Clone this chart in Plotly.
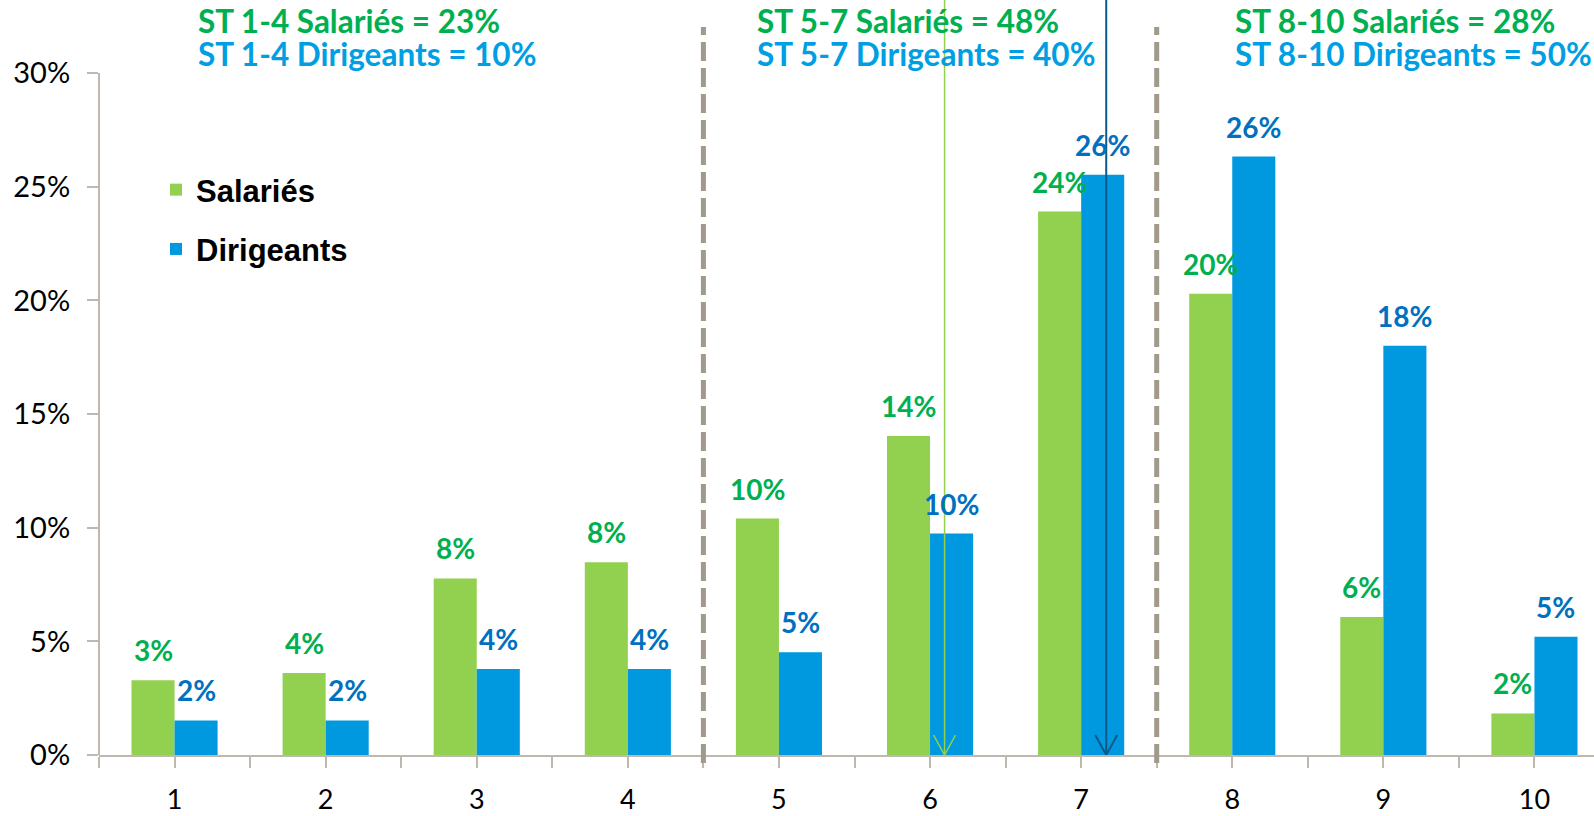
import plotly.graph_objects as go

categories = [1, 2, 3, 4, 5, 6, 7, 8, 9, 10]
tick_labels = ["1", "2", "3", "4", "5", "6", "7", "8", "9", "10"]
salaries = [3.29, 3.61, 7.77, 8.48, 10.40, 14.03, 23.91, 20.29, 6.07, 1.83]
dirigeants = [1.52, 1.52, 3.78, 3.78, 4.52, 9.74, 25.53, 26.33, 18.01, 5.20]
group_titles_sal = ["ST 1-4 Salariés = 23%", "ST 5-7 Salariés = 48%", "ST 8-10 Salariés = 28%"]
group_titles_dir = ["ST 1-4 Dirigeants = 10%", "ST 5-7 Dirigeants = 40%", "ST 8-10 Dirigeants = 50%"]
group_title_px = [196, 755, 1233]
separators = [4.5, 7.5]
y_ticks = [0, 5, 10, 15, 20, 25, 30]

GREEN_BAR = "#92D050"
BLUE_BAR = "#0099E0"
GREEN_TXT = "#00B050"
BLUE_TXT = "#0070C0"
BLUE_TITLE = "#009FE3"
AXIS = "#BFB8AE"
FONT = "Lato"

W, H = 1594, 816
ML, MB = 99, 61
plot_h = H - MB
px_per_pct = 22.73
px_per_cat = 151.1
bargap = 0.43
x_range = [0.5, 0.5 + (W - ML) / px_per_cat]
y_range = [0, plot_h / px_per_pct]
offset = (1 - bargap) / 4

fig = go.Figure()
fig.add_trace(go.Bar(x=categories, y=salaries, name="Salariés", marker_color=GREEN_BAR,
                     marker_line_width=0, legendgroup="g0"))
fig.add_trace(go.Bar(x=categories, y=dirigeants, name="Dirigeants", marker_color=BLUE_BAR,
                     marker_line_width=0, legendgroup="g1"))

annotations = []
for c, v in zip(categories, salaries):
    annotations.append(dict(x=c - offset, y=v, xref="x", yref="y", text=f"{v:.0f}%",
                            showarrow=False, yanchor="middle", yshift=30,
                            font=dict(family=FONT, size=28, color=GREEN_TXT, weight="bold")))
for c, v in zip(categories, dirigeants):
    annotations.append(dict(x=c + offset, y=v, xref="x", yref="y", text=f"{v:.0f}%",
                            showarrow=False, yanchor="middle", yshift=30,
                            font=dict(family=FONT, size=28, color=BLUE_TXT, weight="bold")))
for ts, td, px in zip(group_titles_sal, group_titles_dir, group_title_px):
    xp = (px - ML) / (W - ML)
    annotations.append(dict(x=xp, y=1 - 21 / plot_h, xref="paper", yref="paper", text=ts,
                            showarrow=False, xanchor="left", yanchor="middle",
                            font=dict(family=FONT, size=31.5, color=GREEN_TXT, weight="bold")))
    annotations.append(dict(x=xp, y=1 - 54 / plot_h, xref="paper", yref="paper", text=td,
                            showarrow=False, xanchor="left", yanchor="middle",
                            font=dict(family=FONT, size=31.5, color=BLUE_TITLE, weight="bold")))

shapes = []
# y axis line (only up to 30%)
shapes.append(dict(type="line", xref="paper", yref="y", x0=0, x1=0, y0=0, y1=30,
                   line=dict(color=AXIS, width=2)))
# dashed separators
for s in separators:
    shapes.append(dict(type="line", xref="x", yref="paper", x0=s, x1=s, y0=-8 / plot_h,
                       y1=1 - 27 / plot_h, line=dict(color="#A0998C", width=5, dash="19px,7px")))
# arrows
hw = 11 / px_per_cat
hh = 20 / px_per_pct
for xa, col, wd in [(6.096, "#92D050", 1.5), (7.166, "#0A5A8A", 2)]:
    shapes.append(dict(type="line", xref="x", yref="paper", x0=xa, x1=xa, y0=0, y1=1,
                       line=dict(color=col, width=wd)))
    shapes.append(dict(type="path", xref="x", yref="y",
                       path=f"M {xa - hw},{hh} L {xa},0 L {xa + hw},{hh}",
                       line=dict(color=col, width=wd)))

fig.update_layout(
    width=W, height=H,
    margin=dict(l=ML, r=0, t=0, b=MB, pad=0, autoexpand=False),
    paper_bgcolor="white", plot_bgcolor="white",
    barmode="group", bargap=bargap, bargroupgap=0,
    showlegend=True,
    legend=dict(x=(156 - ML) / (W - ML), y=1 - 163 / plot_h, xanchor="left", yanchor="top",
                bgcolor="rgba(0,0,0,0)", tracegroupgap=16,
                font=dict(family="Liberation Sans", size=31, color="black", weight="bold")),
    annotations=annotations,
    shapes=shapes,
    xaxis=dict(range=x_range, tickmode="array", tickvals=categories, ticktext=tick_labels,
               automargin=False,
               showgrid=False, zeroline=False, showline=True, linecolor=AXIS, linewidth=2,
               ticks="outside", ticklen=11, tickcolor=AXIS, tickwidth=2,
               ticklabelstandoff=9,
               minor=dict(tickmode="linear", tick0=0.5, dtick=1, ticks="outside", ticklen=11,
                          tickcolor=AXIS, tickwidth=2, showgrid=False),
               tickfont=dict(family=FONT, size=27, color="black")),
    yaxis=dict(range=y_range, tickmode="array", tickvals=y_ticks,
               ticktext=[f"{t}%" for t in y_ticks], automargin=False,
               showgrid=False, zeroline=False, showline=False,
               ticks="outside", ticklen=11, tickcolor=AXIS, tickwidth=2,
               ticklabelstandoff=11,
               tickfont=dict(family=FONT, size=29, color="black")),
)

fig.write_html("out.html", config={"displayModeBar": False},
               post_script="document.body.style.margin='0';document.body.style.overflow='hidden';")
